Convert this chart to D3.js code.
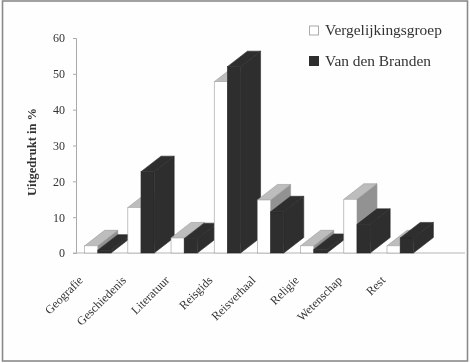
<!DOCTYPE html>
<html>
<head>
<meta charset="utf-8">
<script src="https://cdn.jsdelivr.net/npm/d3@7"></script>
<style>
  html, body { margin: 0; padding: 0; background: #fff; }
  svg { display: block; }
  text { font-family: "Liberation Serif", serif; fill: #333; }
</style>
</head>
<body>
<svg id="chart" width="470" height="363"></svg>
<script>
const categories = ["Geografie", "Geschiedenis", "Literatuur", "Reisgids", "Reisverhaal", "Religie", "Wetenschap", "Rest"];
const vergelijkingsgroep = [2, 12.7, 4.2, 47.8, 14.8, 2, 15, 2];
const vanDenBranden = [0.8, 22.7, 4, 52, 11.5, 1, 8, 4.2];
const yTicks = [0, 10, 20, 30, 40, 50, 60];
const seriesNames = ["Vergelijkingsgroep", "Van den Branden"];

const depthX = 20,
  depthY = 15.5;

const svg = d3.select("#chart");

// scan look: slight blur over everything
svg.append("defs")
  .append("filter")
  .attr("id", "scan")
  .append("feGaussianBlur")
  .attr("stdDeviation", 0.5);

const g = svg.append("g").attr("filter", "url(#scan)");

// Frame
g.append("rect")
  .attr("x", 2.5)
  .attr("y", 1)
  .attr("width", 465)
  .attr("height", 360)
  .attr("fill", "#fefefe")
  .attr("stroke", "#8a8a8a")
  .attr("stroke-width", 1.6);

const xScale = d3.scaleBand()
    .domain(categories)
    .range([76, 422])
    .paddingInner(0.39)
    .paddingOuter(0.2),
  yScale = d3.scaleLinear().domain([0, 60]).range([253, 38]);

const barWidth = xScale.bandwidth() / 2;

// Y axis
const yAxis = g.append("g")
  .attr("transform", "translate(76,0)")
  .call(d3.axisLeft(yScale).tickValues(yTicks).tickSize(3).tickPadding(8));
yAxis.select(".domain").attr("stroke", "#aaa");
yAxis.selectAll("line").attr("stroke", "#aaa");
yAxis.selectAll("text")
  .style("font-family", "'Liberation Serif', serif")
  .style("font-size", "12px")
  .attr("fill", "#444");

// Baseline
g.append("line")
  .attr("x1", 73)
  .attr("x2", 465)
  .attr("y1", yScale(0))
  .attr("y2", yScale(0))
  .attr("stroke", "#b5b5b5");

function drawBar(x, value, front, top, side, stroke) {
  const y = yScale(value),
    y0 = yScale(0),
    x1 = x + barWidth;
  const bar = g.append("g").attr("stroke", stroke).attr("stroke-width", 0.6);
  bar.append("path")
    .attr("fill", side)
    .attr("d", d3.line()([[x1, y], [x1 + depthX, y - depthY], [x1 + depthX, y0 - depthY], [x1, y0]]));
  bar.append("path")
    .attr("fill", top)
    .attr("d", d3.line()([[x, y], [x + depthX, y - depthY], [x1 + depthX, y - depthY], [x1, y]]));
  bar.append("rect")
    .attr("x", x)
    .attr("y", y)
    .attr("width", barWidth)
    .attr("height", y0 - y)
    .attr("fill", front);
}

categories.forEach(function (d, i) {
  drawBar(xScale(d), vergelijkingsgroep[i], "#ffffff", "#bdbdbd", "#929292", "#9a9a9a");
  drawBar(xScale(d) + barWidth, vanDenBranden[i], "#2d2d2d", "#2d2d2d", "#2d2d2d", "#2d2d2d");
});

// X labels
g.selectAll(".cat")
  .data(categories)
  .enter()
  .append("text")
  .attr("class", "cat")
  .attr("text-anchor", "end")
  .attr("font-size", 12)
  .attr("fill", "#444")
  .attr("transform", function (d) {
    return "translate(" + (xScale(d) - 1) + ",281) rotate(-45)";
  })
  .text(function (d) {
    return d;
  });

// Y title
g.append("text")
  .attr("transform", "translate(36,152) rotate(-90)")
  .attr("text-anchor", "middle")
  .attr("font-size", 12.5)
  .attr("font-weight", "bold")
  .text("Uitgedrukt in %");

// Legend
const legendY = [30.5, 61];
seriesNames.forEach(function (name, i) {
  g.append("rect")
    .attr("x", 309.5)
    .attr("y", legendY[i] - 4.5)
    .attr("width", 9)
    .attr("height", 9)
    .attr("fill", i == 0 ? "#fff" : "#2d2d2d")
    .attr("stroke", i == 0 ? "#aaa" : "#2d2d2d");
  g.append("text")
    .attr("x", 325)
    .attr("y", legendY[i] + 4.5)
    .attr("font-size", 15.4)
    .attr("fill", "#222")
    .text(name);
});
</script>
</body>
</html>
